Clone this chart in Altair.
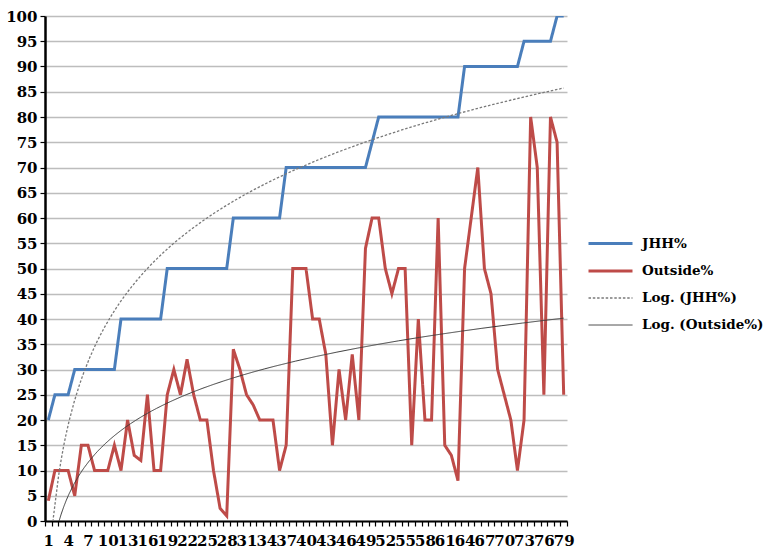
import altair as alt
import pandas as pd

categories = list(range(1, 80))
jhh = [20, 25, 25, 25, 30, 30, 30, 30, 30, 30, 30, 40, 40, 40, 40, 40, 40, 40,
       50, 50, 50, 50, 50, 50, 50, 50, 50, 50, 60, 60, 60, 60, 60, 60, 60, 60,
       70, 70, 70, 70, 70, 70, 70, 70, 70, 70, 70, 70, 70, 75, 80, 80, 80, 80,
       80, 80, 80, 80, 80, 80, 80, 80, 80, 90, 90, 90, 90, 90, 90, 90, 90, 90,
       95, 95, 95, 95, 95, 100, 100]
outside = [4, 10, 10, 10, 5, 15, 15, 10, 10, 10, 15, 10, 20, 13, 12, 25, 10, 10,
           25, 30, 25, 32, 25, 20, 20, 10, 2.5, 1, 34, 30, 25, 23, 20, 20, 20, 10,
           15, 50, 50, 50, 40, 40, 33, 15, 30, 20, 33, 20, 54, 60, 60, 50, 45, 50,
           50, 15, 40, 20, 20, 60, 15, 13, 8, 50, 60, 70, 50, 45, 30, 25, 20, 10,
           20, 80, 70, 25, 80, 75, 25]
series_names = ["JHH%", "Outside%", "Log. (JHH%)", "Log. (Outside%)"]
series_colors = ["#4a7ebb", "#be4b48", "#7a7a7a", "#3a3a3a"]
series_dash = [[1, 0], [1, 0], [2.5, 1.8], [1, 0]]
series_width = [3, 3, 1.3, 1]
y_ticks = list(range(0, 101, 5))
x_labels = list(range(1, 80, 3))
x_ticks = [i + 0.5 for i in range(80)]

df = pd.DataFrame({
    "x": categories * 2,
    "value": jhh + outside,
    "series": ["JHH%"] * len(jhh) + ["Outside%"] * len(outside),
})

FONT = "DejaVu Serif"
legend = alt.Legend(
    title=None, orient="none", legendX=553, legendY=215,
    symbolType="M-2,0H2", symbolSize=484, labelFont=FONT, labelFontSize=13.5,
    labelFontWeight="bold", labelColor="#000000", labelOffset=19,
    rowPadding=8.5, padding=0, symbolOpacity=1,
)
color = alt.Color("series:N", scale=alt.Scale(domain=series_names, range=series_colors), legend=legend)
dash = alt.StrokeDash("series:N", scale=alt.Scale(domain=series_names, range=series_dash), legend=legend)
swidth = alt.StrokeWidth("series:N", scale=alt.Scale(type="ordinal", domain=series_names, range=series_width), legend=legend)

x_scale = alt.Scale(domain=[0.5, 79.5], nice=False, zero=False)
x_main = alt.X(
    "x:Q", scale=x_scale,
    axis=alt.Axis(
        title=None, orient="bottom", values=x_labels, grid=False, ticks=False, format="d",
        labelOverlap=False, labelBound=False, labelFlush=False,
        labelFont=FONT, labelFontSize=15, labelFontWeight="bold", labelColor="#000000",
        labelPadding=12, domainColor="#000000", domainWidth=2,
    ),
)
x_tick = alt.X(
    "x:Q", scale=x_scale,
    axis=alt.Axis(
        title=None, orient="bottom", values=x_ticks, grid=False, labels=False, domain=False,
        tickColor="#000000", tickSize=5, tickWidth=1.2,
    ),
)
y_axis = alt.Axis(
    title=None, values=y_ticks, grid=True, gridColor="#bdbdbd", gridWidth=1.3,
    labelOverlap=False, labelFont=FONT, labelFontSize=15, labelFontWeight="bold",
    labelColor="#000000", labelPadding=3, domainColor="#000000", domainWidth=2.5,
    tickColor="#000000", tickSize=5, tickWidth=1.2,
)
y_scale = alt.Scale(domain=[0, 100], nice=False)

lines = alt.Chart(df).mark_line(clip=True).encode(
    x=x_main, y=alt.Y("value:Q", scale=y_scale, axis=y_axis),
    color=color, strokeDash=dash, strokeWidth=swidth, detail="series:N",
)

trend = alt.Chart(df).transform_regression(
    "x", "value", method="log", groupby=["series"], extent=[1, 79]
).transform_calculate(
    series='"Log. (" + datum.series + ")"'
).mark_line(clip=True).encode(
    x=x_tick, y=alt.Y("value:Q", scale=y_scale, axis=y_axis),
    color=color, strokeDash=dash, strokeWidth=swidth,
)

chart = alt.layer(lines, trend).resolve_axis(x="independent").properties(
    width=522, height=505,
    autosize=alt.AutoSizeParams(type="none"),
    padding={"left": 45, "top": 16, "right": 198, "bottom": 30},
    background="#ffffff",
).configure_view(strokeWidth=0)

chart.save("out.html", embed_options={"renderer": "svg", "actions": False})
